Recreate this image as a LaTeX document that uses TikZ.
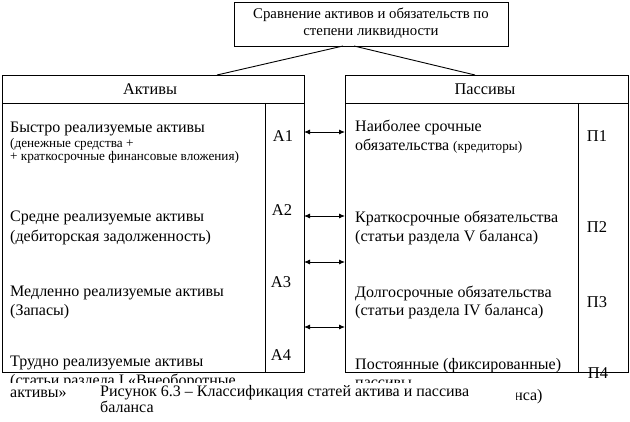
\documentclass[tikz,border=0pt]{standalone}
\usepackage{fontspec}
\setmainfont{Liberation Serif}
\usetikzlibrary{arrows.meta}
\begin{document}
\begin{tikzpicture}[x=1pt,y=-1pt,
  box/.style={draw, line width=0.9pt, inner sep=0pt, outer sep=0pt},
  ln/.style={line width=0.9pt},
  big/.style={font=\fontsize{16}{19}\selectfont, anchor=base west, inner sep=0pt},
  sml/.style={font=\fontsize{13.2}{15}\selectfont, anchor=base west, inner sep=0pt},
  ttl/.style={font=\fontsize{14.8}{17}\selectfont, anchor=base, inner sep=0pt},
  hdr/.style={font=\fontsize{16.3}{19}\selectfont, anchor=base, inner sep=0pt},
  lbl/.style={font=\fontsize{16.5}{19}\selectfont, anchor=base, inner sep=0pt},
  dbl/.style={line width=0.9pt, {Latex[length=6pt,width=5pt]}-{Latex[length=6pt,width=5pt]}}]
\useasboundingbox[fill=white] (0,0) rectangle (630,422);

% boxes
\node[box, minimum width=274pt, minimum height=44pt, anchor=north west] (cmp) at (234,2) {};
\node[box, minimum width=302pt, minimum height=297pt, anchor=north west] (act) at (2,75) {};
\node[box, minimum width=283pt, minimum height=297pt, anchor=north west] (pas) at (345,75) {};

\node[ttl] (cmp1) at (371,19) {Сравнение активов и обязательств по};
\node[ttl] (cmp2) at (371,36) {степени ликвидности};

\draw[ln] ([xshift=-28pt]cmp.south) -- ([xshift=64pt]act.north);
\draw[ln] ([xshift=-17pt]cmp.south) -- ([xshift=-11.5pt]pas.north);

% headers
\coordinate (hl) at (2,103);
\coordinate (hr) at (345,103);
\draw[ln] (act.west |- hl) -- (act.east |- hl);
\draw[ln] (pas.west |- hr) -- (pas.east |- hr);
\node[hdr] (acth) at (150,95) {Активы};
\node[hdr] (pash) at (485,95) {Пассивы};

% inner separators
\coordinate (sl) at (265,103);
\coordinate (sr) at (578,103);
\draw[ln] (sl) -- (sl |- act.south);
\draw[ln] (sr) -- (sr |- pas.south);

% left texts
\node[big] (a1t) at (10,133) {Быстро реализуемые активы};
\node[sml] (a1s) at (10,148) {(денежные средства +};
\node[sml] (a1u) at (10,161) {+ краткосрочные финансовые вложения)};
\node[big] (a2t) at (10,222) {Средне реализуемые активы};
\node[big] (a2s) at (10,242) {(дебиторская задолженность)};
\node[big] (a3t) at (10,297) {Медленно реализуемые активы};
\node[big] (a3s) at (10,316) {(Запасы)};
\node[big] (a4t) at (10,367) {Трудно реализуемые активы};
\node[big] (a4u) at (10,398) {активы»};

\node[lbl] (A1) at (283,142) {А1};
\node[lbl] (A2) at (282,216) {А2};
\node[lbl] (A3) at (281,288) {А3};
\node[lbl] (A4) at (281,361) {А4};

% right texts
\node[big] (p1t) at (355,132) {Наиболее срочные};
\node[big] (p1s) at (355,151) {обязательства \fontsize{13.2}{15}\selectfont(кредиторы)};
\node[big] (p2t) at (355,223) {Краткосрочные обязательства};
\node[big] (p2s) at (355,242) {(статьи раздела V баланса)};
\node[big] (p3t) at (355,298) {Долгосрочные обязательства};
\node[big] (p3s) at (355,316) {(статьи раздела IV баланса)};
\node[big] (p4t) at (355,370) {Постоянные (фиксированные)};
\node[big] (p4u) at (355,400) {(статьи раздела III баланса)};

\node[lbl] (P1) at (597,142) {П1};
\node[lbl] (P2) at (597,233) {П2};
\node[lbl] (P3) at (597,308) {П3};
\node[lbl] (P4) at (598,379) {П4};

% clipped overflow lines
\begin{scope}
\clip (0,0) rectangle (630,383);
\node[big] (a4s) at (10,386) {(статьи раздела I «Внеоборотные};
\node[big] (p4s) at (355,388) {пассивы};
\end{scope}

% arrows
\coordinate (r1) at (0,132);
\coordinate (r2) at (0,216);
\coordinate (r3) at (0,262);
\coordinate (r4) at (0,327);
\draw[dbl] (act.east |- r1) -- (pas.west |- r1);
\draw[dbl] (act.east |- r2) -- (pas.west |- r2);
\draw[dbl] (act.east |- r3) -- (pas.west |- r3);
\draw[dbl] (act.east |- r4) -- (pas.west |- r4);

% caption
\fill[white] (95,384) rectangle (516,422);
\node[big] (cap1) at (100,397) {Рисунок 6.3 – Классификация статей актива и пассива};
\node[big] (cap2) at (100,413) {баланса};
\end{tikzpicture}
\end{document}
